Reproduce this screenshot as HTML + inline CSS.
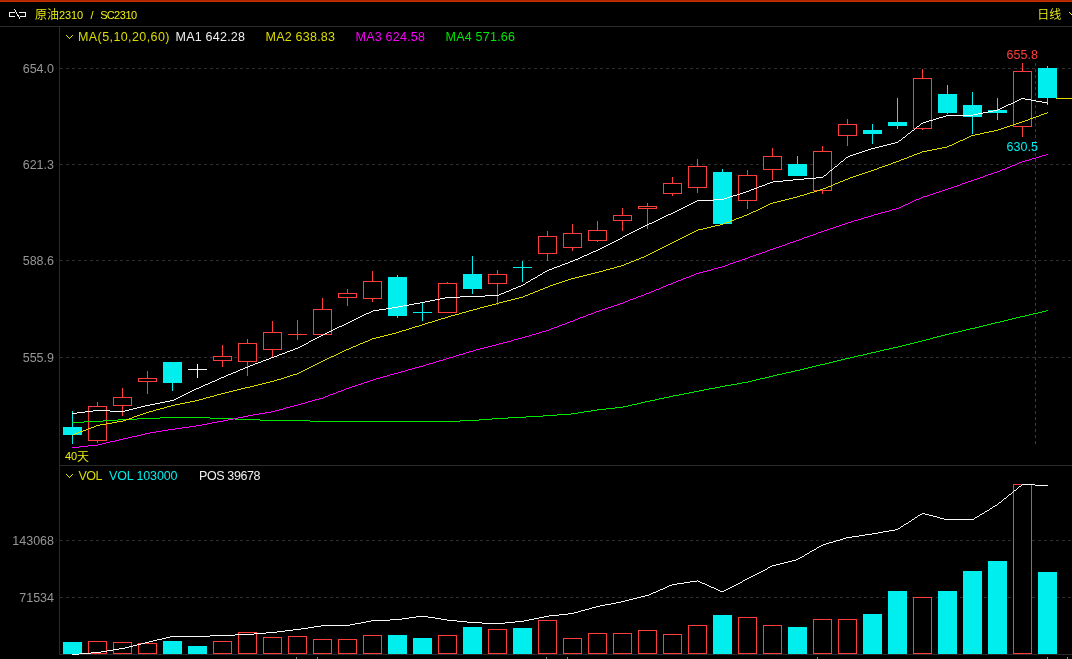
<!DOCTYPE html>
<html lang="zh"><head><meta charset="utf-8"><title>原油2310 / SC2310</title>
<style>html,body{margin:0;padding:0;background:#000;width:1072px;height:659px;overflow:hidden}svg{display:block}text{white-space:pre}</style>
</head><body>
<svg width="1072" height="659" viewBox="0 0 1072 659" style="position:absolute;left:0;top:0">
<g shape-rendering="crispEdges">
<rect x="0" y="0" width="1072" height="1" fill="#b02800"/>
<rect x="0" y="1" width="1072" height="1" fill="#c42c02"/>
<rect x="0" y="26" width="1072" height="1" fill="#2a2a2a"/>
<rect x="59" y="27" width="1" height="628" fill="#2a2a2a"/>
<rect x="59" y="465" width="1013" height="1" fill="#2a2a2a"/>
<rect x="59" y="654" width="1013" height="1" fill="#2a2a2a"/>
<line x1="60" y1="68.5" x2="1072" y2="68.5" stroke="#2e2e2e" stroke-width="1" stroke-dasharray="3 3"/>
<line x1="60" y1="164.5" x2="1072" y2="164.5" stroke="#2e2e2e" stroke-width="1" stroke-dasharray="3 3"/>
<line x1="60" y1="260.5" x2="1072" y2="260.5" stroke="#2e2e2e" stroke-width="1" stroke-dasharray="3 3"/>
<line x1="60" y1="357.5" x2="1072" y2="357.5" stroke="#2e2e2e" stroke-width="1" stroke-dasharray="3 3"/>
<line x1="60" y1="540.5" x2="1072" y2="540.5" stroke="#2e2e2e" stroke-width="1" stroke-dasharray="3 3"/>
<line x1="60" y1="597.5" x2="1072" y2="597.5" stroke="#2e2e2e" stroke-width="1" stroke-dasharray="3 3"/>
<line x1="1035.5" y1="63" x2="1035.5" y2="444" stroke="#3c3c3c" stroke-width="1" stroke-dasharray="3 3"/>
<rect x="63" y="642" width="19" height="12" fill="#00eeee"/>
<rect x="88.5" y="641.5" width="18" height="12" fill="#000" stroke="#ff3d3d" stroke-width="1"/>
<rect x="113.5" y="642.5" width="18" height="11" fill="#000" stroke="#ff3d3d" stroke-width="1"/>
<rect x="138.5" y="643.5" width="18" height="10" fill="#000" stroke="#ff3d3d" stroke-width="1"/>
<rect x="163" y="641" width="19" height="13" fill="#00eeee"/>
<rect x="188" y="646" width="19" height="8" fill="#00eeee"/>
<rect x="213.5" y="641.5" width="18" height="12" fill="#000" stroke="#ff3d3d" stroke-width="1"/>
<rect x="238.5" y="632.5" width="18" height="21" fill="#000" stroke="#ff3d3d" stroke-width="1"/>
<rect x="263.5" y="637.5" width="18" height="16" fill="#000" stroke="#ff3d3d" stroke-width="1"/>
<rect x="288.5" y="636.5" width="18" height="17" fill="#000" stroke="#ff3d3d" stroke-width="1"/>
<rect x="313.5" y="639.5" width="18" height="14" fill="#000" stroke="#ff3d3d" stroke-width="1"/>
<rect x="338.5" y="639.5" width="18" height="14" fill="#000" stroke="#ff3d3d" stroke-width="1"/>
<rect x="363.5" y="635.5" width="18" height="18" fill="#000" stroke="#ff3d3d" stroke-width="1"/>
<rect x="388" y="635" width="19" height="19" fill="#00eeee"/>
<rect x="413" y="638" width="19" height="16" fill="#00eeee"/>
<rect x="438.5" y="635.5" width="18" height="18" fill="#000" stroke="#ff3d3d" stroke-width="1"/>
<rect x="463" y="627" width="19" height="27" fill="#00eeee"/>
<rect x="488.5" y="629.5" width="18" height="24" fill="#000" stroke="#ff3d3d" stroke-width="1"/>
<rect x="513" y="628" width="19" height="26" fill="#00eeee"/>
<rect x="538.5" y="620.5" width="18" height="33" fill="#000" stroke="#ff3d3d" stroke-width="1"/>
<rect x="563.5" y="638.5" width="18" height="15" fill="#000" stroke="#ff3d3d" stroke-width="1"/>
<rect x="588.5" y="633.5" width="18" height="20" fill="#000" stroke="#ff3d3d" stroke-width="1"/>
<rect x="613.5" y="633.5" width="18" height="20" fill="#000" stroke="#ff3d3d" stroke-width="1"/>
<rect x="638.5" y="630.5" width="18" height="23" fill="#000" stroke="#ff3d3d" stroke-width="1"/>
<rect x="663.5" y="634.5" width="18" height="19" fill="#000" stroke="#ff3d3d" stroke-width="1"/>
<rect x="688.5" y="625.5" width="18" height="28" fill="#000" stroke="#ff3d3d" stroke-width="1"/>
<rect x="713" y="615" width="19" height="39" fill="#00eeee"/>
<rect x="738.5" y="617.5" width="18" height="36" fill="#000" stroke="#ff3d3d" stroke-width="1"/>
<rect x="763.5" y="625.5" width="18" height="28" fill="#000" stroke="#ff3d3d" stroke-width="1"/>
<rect x="788" y="627" width="19" height="27" fill="#00eeee"/>
<rect x="813.5" y="619.5" width="18" height="34" fill="#000" stroke="#ff3d3d" stroke-width="1"/>
<rect x="838.5" y="619.5" width="18" height="34" fill="#000" stroke="#ff3d3d" stroke-width="1"/>
<rect x="863" y="614" width="19" height="40" fill="#00eeee"/>
<rect x="888" y="591" width="19" height="63" fill="#00eeee"/>
<rect x="913.5" y="597.5" width="18" height="56" fill="#000" stroke="#ff3d3d" stroke-width="1"/>
<rect x="938" y="591" width="19" height="63" fill="#00eeee"/>
<rect x="963" y="571" width="19" height="83" fill="#00eeee"/>
<rect x="988" y="561" width="19" height="93" fill="#00eeee"/>
<rect x="1013.5" y="484.5" width="18" height="169" fill="#000" stroke="#ff3d3d" stroke-width="1"/>
<rect x="1038" y="572" width="19" height="82" fill="#00eeee"/>
<rect x="72" y="411" width="1" height="33" fill="#00eeee"/>
<rect x="63" y="427" width="19" height="8" fill="#00eeee"/>
<rect x="97" y="402" width="1" height="4" fill="#ff3d3d"/>
<rect x="97" y="441" width="1" height="2" fill="#ff3d3d"/>
<rect x="88.5" y="406.5" width="18" height="34" fill="#000" stroke="#ff3d3d" stroke-width="1"/>
<rect x="122" y="388" width="1" height="9" fill="#ff3d3d"/>
<rect x="122" y="406" width="1" height="10" fill="#ff3d3d"/>
<rect x="113.5" y="397.5" width="18" height="8" fill="#000" stroke="#ff3d3d" stroke-width="1"/>
<rect x="147" y="371" width="1" height="7" fill="#ff3d3d"/>
<rect x="147" y="382" width="1" height="12" fill="#ff3d3d"/>
<rect x="138.5" y="378.5" width="18" height="3" fill="#000" stroke="#ff3d3d" stroke-width="1"/>
<rect x="172" y="362" width="1" height="29" fill="#00eeee"/>
<rect x="163" y="362" width="19" height="21" fill="#00eeee"/>
<rect x="197" y="364" width="1" height="14" fill="#fafafa"/>
<rect x="188" y="369" width="19" height="1" fill="#fafafa"/>
<rect x="222" y="345" width="1" height="11" fill="#ff3d3d"/>
<rect x="222" y="361" width="1" height="6" fill="#ff3d3d"/>
<rect x="213.5" y="356.5" width="18" height="4" fill="#000" stroke="#ff3d3d" stroke-width="1"/>
<rect x="247" y="339" width="1" height="4" fill="#ff3d3d"/>
<rect x="247" y="362" width="1" height="14" fill="#ff3d3d"/>
<rect x="238.5" y="343.5" width="18" height="18" fill="#000" stroke="#ff3d3d" stroke-width="1"/>
<rect x="272" y="321" width="1" height="11" fill="#ff3d3d"/>
<rect x="272" y="350" width="1" height="8" fill="#ff3d3d"/>
<rect x="263.5" y="332.5" width="18" height="17" fill="#000" stroke="#ff3d3d" stroke-width="1"/>
<rect x="297" y="320" width="1" height="20" fill="#ff3d3d"/>
<rect x="288" y="334" width="19" height="1" fill="#ff3d3d"/>
<rect x="322" y="298" width="1" height="11" fill="#ff3d3d"/>
<rect x="313.5" y="309.5" width="18" height="25" fill="#000" stroke="#ff3d3d" stroke-width="1"/>
<rect x="347" y="289" width="1" height="4" fill="#ff3d3d"/>
<rect x="347" y="298" width="1" height="8" fill="#ff3d3d"/>
<rect x="338.5" y="293.5" width="18" height="4" fill="#000" stroke="#ff3d3d" stroke-width="1"/>
<rect x="372" y="271" width="1" height="10" fill="#ff3d3d"/>
<rect x="372" y="299" width="1" height="3" fill="#ff3d3d"/>
<rect x="363.5" y="281.5" width="18" height="17" fill="#000" stroke="#ff3d3d" stroke-width="1"/>
<rect x="397" y="275" width="1" height="43" fill="#00eeee"/>
<rect x="388" y="277" width="19" height="39" fill="#00eeee"/>
<rect x="422" y="302" width="1" height="19" fill="#00eeee"/>
<rect x="413" y="312" width="19" height="1" fill="#00eeee"/>
<rect x="447" y="282" width="1" height="1" fill="#ff3d3d"/>
<rect x="438.5" y="283.5" width="18" height="29" fill="#000" stroke="#ff3d3d" stroke-width="1"/>
<rect x="472" y="256" width="1" height="38" fill="#00eeee"/>
<rect x="463" y="274" width="19" height="15" fill="#00eeee"/>
<rect x="497" y="270" width="1" height="4" fill="#ff3d3d"/>
<rect x="497" y="284" width="1" height="21" fill="#ff3d3d"/>
<rect x="488.5" y="274.5" width="18" height="9" fill="#000" stroke="#ff3d3d" stroke-width="1"/>
<rect x="522" y="261" width="1" height="21" fill="#00eeee"/>
<rect x="513" y="267" width="19" height="1" fill="#00eeee"/>
<rect x="547" y="231" width="1" height="5" fill="#ff3d3d"/>
<rect x="547" y="254" width="1" height="7" fill="#ff3d3d"/>
<rect x="538.5" y="236.5" width="18" height="17" fill="#000" stroke="#ff3d3d" stroke-width="1"/>
<rect x="572" y="224" width="1" height="9" fill="#ff3d3d"/>
<rect x="572" y="248" width="1" height="3" fill="#ff3d3d"/>
<rect x="563.5" y="233.5" width="18" height="14" fill="#000" stroke="#ff3d3d" stroke-width="1"/>
<rect x="597" y="221" width="1" height="9" fill="#ff3d3d"/>
<rect x="597" y="241" width="1" height="1" fill="#ff3d3d"/>
<rect x="588.5" y="230.5" width="18" height="10" fill="#000" stroke="#ff3d3d" stroke-width="1"/>
<rect x="622" y="208" width="1" height="7" fill="#ff3d3d"/>
<rect x="622" y="221" width="1" height="10" fill="#ff3d3d"/>
<rect x="613.5" y="215.5" width="18" height="5" fill="#000" stroke="#ff3d3d" stroke-width="1"/>
<rect x="647" y="203" width="1" height="3" fill="#ff3d3d"/>
<rect x="647" y="209" width="1" height="20" fill="#ff3d3d"/>
<rect x="638.5" y="206.5" width="18" height="2" fill="#000" stroke="#ff3d3d" stroke-width="1"/>
<rect x="672" y="177" width="1" height="6" fill="#ff3d3d"/>
<rect x="672" y="194" width="1" height="2" fill="#ff3d3d"/>
<rect x="663.5" y="183.5" width="18" height="10" fill="#000" stroke="#ff3d3d" stroke-width="1"/>
<rect x="697" y="159" width="1" height="7" fill="#ff3d3d"/>
<rect x="697" y="188" width="1" height="5" fill="#ff3d3d"/>
<rect x="688.5" y="166.5" width="18" height="21" fill="#000" stroke="#ff3d3d" stroke-width="1"/>
<rect x="722" y="169" width="1" height="55" fill="#00eeee"/>
<rect x="713" y="172" width="19" height="52" fill="#00eeee"/>
<rect x="747" y="170" width="1" height="5" fill="#ff3d3d"/>
<rect x="747" y="201" width="1" height="8" fill="#ff3d3d"/>
<rect x="738.5" y="175.5" width="18" height="25" fill="#000" stroke="#ff3d3d" stroke-width="1"/>
<rect x="772" y="148" width="1" height="8" fill="#ff3d3d"/>
<rect x="772" y="170" width="1" height="10" fill="#ff3d3d"/>
<rect x="763.5" y="156.5" width="18" height="13" fill="#000" stroke="#ff3d3d" stroke-width="1"/>
<rect x="797" y="156" width="1" height="20" fill="#00eeee"/>
<rect x="788" y="164" width="19" height="12" fill="#00eeee"/>
<rect x="822" y="146" width="1" height="5" fill="#ff3d3d"/>
<rect x="822" y="191" width="1" height="3" fill="#ff3d3d"/>
<rect x="813.5" y="151.5" width="18" height="39" fill="#000" stroke="#ff3d3d" stroke-width="1"/>
<rect x="847" y="119" width="1" height="5" fill="#ff3d3d"/>
<rect x="847" y="136" width="1" height="10" fill="#ff3d3d"/>
<rect x="838.5" y="124.5" width="18" height="11" fill="#000" stroke="#ff3d3d" stroke-width="1"/>
<rect x="872" y="124" width="1" height="20" fill="#00eeee"/>
<rect x="863" y="130" width="19" height="4" fill="#00eeee"/>
<rect x="897" y="98" width="1" height="31" fill="#00eeee"/>
<rect x="888" y="122" width="19" height="4" fill="#00eeee"/>
<rect x="922" y="69" width="1" height="9" fill="#ff3d3d"/>
<rect x="922" y="129" width="1" height="1" fill="#ff3d3d"/>
<rect x="913.5" y="78.5" width="18" height="50" fill="#000" stroke="#ff3d3d" stroke-width="1"/>
<rect x="947" y="85" width="1" height="29" fill="#00eeee"/>
<rect x="938" y="94" width="19" height="19" fill="#00eeee"/>
<rect x="972" y="92" width="1" height="42" fill="#00eeee"/>
<rect x="963" y="105" width="19" height="12" fill="#00eeee"/>
<rect x="997" y="98" width="1" height="22" fill="#00eeee"/>
<rect x="988" y="110" width="19" height="3" fill="#00eeee"/>
<rect x="1022" y="63" width="1" height="8" fill="#ff3d3d"/>
<rect x="1022" y="127" width="1" height="10" fill="#ff3d3d"/>
<rect x="1013.5" y="71.5" width="18" height="55" fill="#000" stroke="#ff3d3d" stroke-width="1"/>
<rect x="1047" y="66" width="1" height="39" fill="#00eeee"/>
<rect x="1038" y="68" width="19" height="30" fill="#00eeee"/>
<rect x="1056" y="98" width="16" height="1" fill="#dcdc00"/>
<path d="M72 422.5h12m0 -1h19m0 -1h15m0 -1h19m0 -1h23m0 -1h50m0 1h25m0 1h25m0 1h50m0 1h150m0 -1h19m0 -1h13m0 -1h16m0 -1h18m0 -1h17m0 -1h14m0 -1h14m0 -1h7m0 -1h6m0 -1h7m0 -1h6m0 -1h9m0 -1h9m0 -1h8m0 -1h5m0 -1h4m0 -1h5m0 -1h4m0 -1h4m0 -1h5m0 -1h5m0 -1h4m0 -1h5m0 -1h5m0 -1h4m0 -1h6m0 -1h5m0 -1h5m0 -1h5m0 -1h5m0 -1h5m0 -1h5m0 -1h6m0 -1h5m0 -1h5m0 -1h6m0 -1h6m0 -1h5m0 -1h6m0 -1h4m0 -1h4m0 -1h4m0 -1h5m0 -1h4m0 -1h4m0 -1h4m0 -1h5m0 -1h4m0 -1h5m0 -1h4m0 -1h5m0 -1h4m0 -1h4m0 -1h4m0 -1h4m0 -1h4m0 -1h5m0 -1h4m0 -1h4m0 -1h4m0 -1h4m0 -1h4m0 -1h5m0 -1h4m0 -1h4m0 -1h5m0 -1h4m0 -1h4m0 -1h5m0 -1h4m0 -1h4m0 -1h5m0 -1h4m0 -1h5m0 -1h4m0 -1h4m0 -1h4m0 -1h4m0 -1h4m0 -1h4m0 -1h4m0 -1h4m0 -1h3m0 -1h4m0 -1h4m0 -1h4m0 -1h4m0 -1h4m0 -1h5m0 -1h4m0 -1h4m0 -1h4m0 -1h5m0 -1h4m0 -1h4m0 -1h4m0 -1h4m0 -1h4m0 -1h5m0 -1h4m0 -1h4m0 -1h4m0 -1h4m0 -1h4m0 -1h5m0 -1h4m0 -1h4m0 -1h5m0 -1h4m0 -1h4m0 -1h2" fill="none" stroke="#00e800" stroke-width="1"/>
<path d="M72 447.5h7m0 -1h9m0 -1h10m0 -1h4m0 -1h4m0 -1h4m0 -1h5m0 -1h4m0 -1h4m0 -1h5m0 -1h4m0 -1h5m0 -1h4m0 -1h4m0 -1h5m0 -1h6m0 -1h6m0 -1h6m0 -1h7m0 -1h7m0 -1h7m0 -1h7m0 -1h6m0 -1h5m0 -1h5m0 -1h5m0 -1h6m0 -1h5m0 -1h5m0 -1h5m0 -1h5m0 -1h5m0 -1h5m0 -1h6m0 -1h6m0 -1h6m0 -1h4m0 -1h4m0 -1h4m0 -1h3m0 -1h4m0 -1h4m0 -1h4m0 -1h3m0 -1h4m0 -1h3m0 -1h4m0 -1h3m0 -1h4m0 -1h4m0 -1h2m0 -1h3m0 -1h2m0 -1h3m0 -1h3m0 -1h2m0 -1h3m0 -1h3m0 -1h2m0 -1h3m0 -1h3m0 -1h3m0 -1h3m0 -1h3m0 -1h3m0 -1h3m0 -1h3m0 -1h3m0 -1h3m0 -1h4m0 -1h3m0 -1h4m0 -1h3m0 -1h4m0 -1h4m0 -1h3m0 -1h4m0 -1h3m0 -1h4m0 -1h3m0 -1h4m0 -1h4m0 -1h3m0 -1h3m0 -1h4m0 -1h3m0 -1h3m0 -1h4m0 -1h3m0 -1h3m0 -1h4m0 -1h3m0 -1h3m0 -1h4m0 -1h3m0 -1h3m0 -1h4m0 -1h3m0 -1h4m0 -1h4m0 -1h4m0 -1h4m0 -1h4m0 -1h3m0 -1h4m0 -1h4m0 -1h4m0 -1h3m0 -1h4m0 -1h4m0 -1h3m0 -1h4m0 -1h3m0 -1h4m0 -1h3m0 -1h3m0 -1h4m0 -1h3m0 -1h2m0 -1h3m0 -1h3m0 -1h2m0 -1h3m0 -1h3m0 -1h2m0 -1h3m0 -1h3m0 -1h2m0 -1h3m0 -1h2m0 -1h3m0 -1h3m0 -1h2m0 -1h3m0 -1h3m0 -1h2m0 -1h3m0 -1h3m0 -1h3m0 -1h3m0 -1h3m0 -1h3m0 -1h3m0 -1h3m0 -1h3m0 -1h2m0 -1h3m0 -1h2m0 -1h3m0 -1h3m0 -1h2m0 -1h3m0 -1h3m0 -1h2m0 -1h3m0 -1h2m0 -1h3m0 -1h2m0 -1h3m0 -1h2m0 -1h2m0 -1h3m0 -1h2m0 -1h3m0 -1h2m0 -1h3m0 -1h2m0 -1h3m0 -1h2m0 -1h3m0 -1h3m0 -1h2m0 -1h3m0 -1h2m0 -1h3m0 -1h4m0 -1h4m0 -1h4m0 -1h3m0 -1h4m0 -1h4m0 -1h3m0 -1h3m0 -1h2m0 -1h3m0 -1h3m0 -1h3m0 -1h3m0 -1h3m0 -1h3m0 -1h2m0 -1h3m0 -1h3m0 -1h3m0 -1h3m0 -1h3m0 -1h2m0 -1h3m0 -1h3m0 -1h3m0 -1h3m0 -1h3m0 -1h3m0 -1h2m0 -1h3m0 -1h3m0 -1h3m0 -1h3m0 -1h3m0 -1h2m0 -1h3m0 -1h3m0 -1h3m0 -1h3m0 -1h2m0 -1h3m0 -1h3m0 -1h3m0 -1h3m0 -1h3m0 -1h3m0 -1h3m0 -1h3m0 -1h3m0 -1h3m0 -1h3m0 -1h3m0 -1h4m0 -1h3m0 -1h3m0 -1h4m0 -1h3m0 -1h3m0 -1h4m0 -1h3m0 -1h4m0 -1h4m0 -1h3m0 -1h4m0 -1h3m0 -1h2m0 -1h2m0 -1h2m0 -1h3m0 -1h2m0 -1h2m0 -1h2m0 -1h2m0 -1h3m0 -1h2m0 -1h2m0 -1h4m0 -1h3m0 -1h3m0 -1h3m0 -1h3m0 -1h3m0 -1h3m0 -1h3m0 -1h3m0 -1h3m0 -1h3m0 -1h3m0 -1h2m0 -1h3m0 -1h3m0 -1h3m0 -1h3m0 -1h3m0 -1h3m0 -1h3m0 -1h2m0 -1h3m0 -1h3m0 -1h3m0 -1h3m0 -1h3m0 -1h2m0 -1h3m0 -1h2m0 -1h3m0 -1h2m0 -1h3m0 -1h2m0 -1h2m0 -1h3m0 -1h3m0 -1h4m0 -1h3m0 -1h4m0 -1h3m0 -1h3m0 -1h4m0 -1h2" fill="none" stroke="#fa00fa" stroke-width="1"/>
<path d="M72 435.5h1m0 -1h2m0 -1h3m0 -1h2m0 -1h3m0 -1h3m0 -1h2m0 -1h3m0 -1h3m0 -1h2m0 -1h4m0 -1h6m0 -1h6m0 -1h5m0 -1h6m0 -1h3m0 -1h3m0 -1h3m0 -1h2m0 -1h3m0 -1h3m0 -1h3m0 -1h3m0 -1h3m0 -1h4m0 -1h3m0 -1h4m0 -1h4m0 -1h3m0 -1h4m0 -1h4m0 -1h5m0 -1h5m0 -1h5m0 -1h5m0 -1h4m0 -1h4m0 -1h3m0 -1h4m0 -1h4m0 -1h3m0 -1h4m0 -1h4m0 -1h4m0 -1h4m0 -1h4m0 -1h4m0 -1h4m0 -1h5m0 -1h4m0 -1h4m0 -1h4m0 -1h4m0 -1h4m0 -1h4m0 -1h3m0 -1h4m0 -1h3m0 -1h3m0 -1h3m0 -1h3m0 -1h4m0 -1h2m0 -1h2m0 -1h2m0 -1h2m0 -1h2m0 -1h2m0 -1h2m0 -1h2m0 -1h2m0 -1h2m0 -1h2m0 -1h2m0 -1h2m0 -1h2m0 -1h2m0 -1h2m0 -1h2m0 -1h3m0 -1h2m0 -1h2m0 -1h2m0 -1h2m0 -1h2m0 -1h2m0 -1h3m0 -1h2m0 -1h2m0 -1h3m0 -1h2m0 -1h2m0 -1h3m0 -1h2m0 -1h3m0 -1h2m0 -1h2m0 -1h4m0 -1h4m0 -1h4m0 -1h4m0 -1h4m0 -1h4m0 -1h3m0 -1h3m0 -1h4m0 -1h3m0 -1h3m0 -1h3m0 -1h4m0 -1h3m0 -1h3m0 -1h3m0 -1h4m0 -1h3m0 -1h3m0 -1h3m0 -1h4m0 -1h3m0 -1h3m0 -1h4m0 -1h4m0 -1h3m0 -1h4m0 -1h3m0 -1h4m0 -1h4m0 -1h3m0 -1h4m0 -1h4m0 -1h4m0 -1h4m0 -1h3m0 -1h4m0 -1h4m0 -1h4m0 -1h4m0 -1h4m0 -1h4m0 -1h2m0 -1h3m0 -1h2m0 -1h3m0 -1h2m0 -1h3m0 -1h2m0 -1h3m0 -1h2m0 -1h3m0 -1h2m0 -1h3m0 -1h3m0 -1h3m0 -1h3m0 -1h3m0 -1h3m0 -1h3m0 -1h4m0 -1h4m0 -1h4m0 -1h4m0 -1h4m0 -1h4m0 -1h4m0 -1h4m0 -1h3m0 -1h4m0 -1h4m0 -1h3m0 -1h4m0 -1h3m0 -1h2m0 -1h3m0 -1h2m0 -1h3m0 -1h2m0 -1h3m0 -1h2m0 -1h3m0 -1h2m0 -1h2m0 -1h2m0 -1h2m0 -1h2m0 -1h2m0 -1h2m0 -1h2m0 -1h2m0 -1h2m0 -1h2m0 -1h2m0 -1h2m0 -1h2m0 -1h2m0 -1h2m0 -1h2m0 -1h2m0 -1h2m0 -1h2m0 -1h2m0 -1h2m0 -1h2m0 -1h2m0 -1h2m0 -1h2m0 -1h2m0 -1h5m0 -1h4m0 -1h4m0 -1h4m0 -1h5m0 -1h3m0 -1h3m0 -1h3m0 -1h2m0 -1h3m0 -1h2m0 -1h3m0 -1h3m0 -1h2m0 -1h3m0 -1h2m0 -1h2m0 -1h2m0 -1h3m0 -1h2m0 -1h2m0 -1h2m0 -1h2m0 -1h2m0 -1h2m0 -1h2m0 -1h3m0 -1h4m0 -1h4m0 -1h4m0 -1h4m0 -1h4m0 -1h4m0 -1h3m0 -1h4m0 -1h3m0 -1h3m0 -1h4m0 -1h3m0 -1h3m0 -1h3m0 -1h3m0 -1h2m0 -1h3m0 -1h2m0 -1h2m0 -1h3m0 -1h2m0 -1h3m0 -1h2m0 -1h3m0 -1h2m0 -1h3m0 -1h3m0 -1h3m0 -1h3m0 -1h3m0 -1h3m0 -1h3m0 -1h3m0 -1h3m0 -1h2m0 -1h3m0 -1h3m0 -1h3m0 -1h3m0 -1h2m0 -1h3m0 -1h3m0 -1h2m0 -1h3m0 -1h3m0 -1h2m0 -1h3m0 -1h2m0 -1h3m0 -1h3m0 -1h2m0 -1h5m0 -1h5m0 -1h5m0 -1h5m0 -1h5m0 -1h2m0 -1h3m0 -1h2m0 -1h2m0 -1h2m0 -1h2m0 -1h3m0 -1h2m0 -1h2m0 -1h2m0 -1h2m0 -1h4m0 -1h5m0 -1h4m0 -1h5m0 -1h5m0 -1h4m0 -1h3m0 -1h3m0 -1h3m0 -1h3m0 -1h3m0 -1h3m0 -1h3m0 -1h3m0 -1h3m0 -1h3m0 -1h2m0 -1h3m0 -1h3m0 -1h3m0 -1h2m0 -1h3m0 -1h3m0 -1h1" fill="none" stroke="#dcdc00" stroke-width="1"/>
<path d="M72 413.5h5m0 -1h8m0 -1h8m0 -1h17m0 1h15m0 -1h4m0 -1h4m0 -1h4m0 -1h4m0 -1h4m0 -1h5m0 -1h5m0 -1h5m0 -1h5m0 -1h5m0 -1h4m0 -1h2m0 -1h2m0 -1h2m0 -1h2m0 -1h2m0 -1h2m0 -1h2m0 -1h2m0 -1h2m0 -1h2m0 -1h2m0 -1h3m0 -1h2m0 -1h2m0 -1h2m0 -1h3m0 -1h2m0 -1h2m0 -1h3m0 -1h2m0 -1h2m0 -1h2m0 -1h3m0 -1h2m0 -1h2m0 -1h3m0 -1h2m0 -1h3m0 -1h2m0 -1h2m0 -1h3m0 -1h2m0 -1h3m0 -1h2m0 -1h3m0 -1h2m0 -1h3m0 -1h3m0 -1h2m0 -1h3m0 -1h3m0 -1h2m0 -1h3m0 -1h3m0 -1h2m0 -1h3m0 -1h3m0 -1h2m0 -1h3m0 -1h3m0 -1h2m0 -1h3m0 -1h2m0 -1h2m0 -1h2m0 -1h2m0 -1h2m0 -1h1m0 -1h2m0 -1h2m0 -1h2m0 -1h2m0 -1h2m0 -1h2m0 -1h2m0 -1h2m0 -1h2m0 -1h2m0 -1h2m0 -1h2m0 -1h2m0 -1h2m0 -1h2m0 -1h3m0 -1h2m0 -1h2m0 -1h2m0 -1h2m0 -1h2m0 -1h2m0 -1h2m0 -1h2m0 -1h2m0 -1h2m0 -1h2m0 -1h2m0 -1h3m0 -1h2m0 -1h2m0 -1h6m0 -1h7m0 -1h6m0 -1h6m0 -1h5m0 -1h6m0 -1h5m0 -1h6m0 -1h5m0 -1h5m0 -1h5m0 -1h5m0 -1h5m0 -1h15m0 -1h25m0 -1h14m0 -1h2m0 -1h3m0 -1h2m0 -1h3m0 -1h2m0 -1h2m0 -1h3m0 -1h2m0 -1h3m0 -1h2m0 -1h2m0 -1h1m0 -1h2m0 -1h2m0 -1h1m0 -1h2m0 -1h2m0 -1h2m0 -1h1m0 -1h2m0 -1h2m0 -1h1m0 -1h2m0 -1h2m0 -1h2m0 -1h3m0 -1h2m0 -1h3m0 -1h3m0 -1h2m0 -1h3m0 -1h3m0 -1h2m0 -1h3m0 -1h2m0 -1h3m0 -1h2m0 -1h2m0 -1h2m0 -1h3m0 -1h2m0 -1h2m0 -1h2m0 -1h3m0 -1h2m0 -1h2m0 -1h2m0 -1h2m0 -1h2m0 -1h2m0 -1h2m0 -1h2m0 -1h2m0 -1h2m0 -1h2m0 -1h2m0 -1h2m0 -1h1m0 -1h2m0 -1h2m0 -1h2m0 -1h2m0 -1h2m0 -1h2m0 -1h2m0 -1h2m0 -1h2m0 -1h2m0 -1h2m0 -1h2m0 -1h2m0 -1h3m0 -1h2m0 -1h2m0 -1h2m0 -1h2m0 -1h2m0 -1h2m0 -1h2m0 -1h2m0 -1h3m0 -1h2m0 -1h2m0 -1h2m0 -1h2m0 -1h2m0 -1h2m0 -1h2m0 -1h2m0 -1h2m0 -1h2m0 -1h2m0 -1h2m0 -1h2m0 -1h17m0 -1h10m0 -1h3m0 -1h3m0 -1h3m0 -1h4m0 -1h3m0 -1h3m0 -1h3m0 -1h3m0 -1h2m0 -1h3m0 -1h3m0 -1h2m0 -1h3m0 -1h3m0 -1h2m0 -1h3m0 -1h3m0 -1h10m0 -1h10m0 -1h11m0 -1h12m0 -1h7m0 -1h1m0 -1h2m0 -1h1m0 -1h1m0 -1h1m0 -1h1m0 -1h2m0 -1h1m0 -1h1m0 -1h1m0 -1h2m0 -1h1m0 -1h1m0 -1h1m0 -1h1m0 -1h2m0 -1h1m0 -1h1m0 -1h1m0 -1h2m0 -1h2m0 -1h3m0 -1h3m0 -1h3m0 -1h3m0 -1h3m0 -1h3m0 -1h3m0 -1h4m0 -1h4m0 -1h4m0 -1h4m0 -1h4m0 -1h4m0 -1h3m0 -1h1m0 -1h2m0 -1h1m0 -1h1m0 -1h2m0 -1h1m0 -1h1m0 -1h1m0 -1h2m0 -1h1m0 -1h1m0 -1h2m0 -1h1m0 -1h1m0 -1h1m0 -1h2m0 -1h1m0 -1h1m0 -1h2m0 -1h3m0 -1h3m0 -1h4m0 -1h3m0 -1h3m0 -1h4m0 -1h3m0 -1h27m0 -1h5m0 -1h5m0 -1h5m0 -1h5m0 -1h5m0 -1h2m0 -1h2m0 -1h2m0 -1h2m0 -1h2m0 -1h3m0 -1h2m0 -1h2m0 -1h2m0 -1h2m0 -1h2m0 -1h4m0 1h6m0 1h5m0 1h6m0 1h5m0 1h1" fill="none" stroke="#fafafa" stroke-width="1"/>
<path d="M72 654.5h7m0 -1h12m0 -1h10m0 -1h6m0 -1h6m0 -1h6m0 -1h6m0 -1h4m0 -1h4m0 -1h4m0 -1h4m0 -1h4m0 -1h4m0 -1h4m0 -1h4m0 -1h5m0 -1h4m0 -1h4m0 -1h40m0 -1h25m0 -1h19m0 -1h12m0 -1h11m0 -1h8m0 -1h8m0 -1h8m0 -1h7m0 -1h6m0 -1h7m0 -1h29m0 -1h5m0 -1h6m0 -1h5m0 -1h5m0 -1h19m0 -1h12m0 -1h7m0 -1h7m0 -1h12m0 1h7m0 1h6m0 1h6m0 1h10m0 1h10m0 1h15m0 1h23m0 -1h10m0 -1h9m0 -1h5m0 -1h5m0 -1h5m0 -1h5m0 -1h5m0 -1h10m0 -1h9m0 -1h6m0 -1h4m0 -1h3m0 -1h4m0 -1h4m0 -1h3m0 -1h4m0 -1h4m0 -1h5m0 -1h6m0 -1h5m0 -1h5m0 -1h4m0 -1h4m0 -1h4m0 -1h4m0 -1h4m0 -1h4m0 -1h4m0 -1h2m0 -1h2m0 -1h3m0 -1h2m0 -1h2m0 -1h3m0 -1h2m0 -1h2m0 -1h2m0 -1h3m0 -1h5m0 -1h7m0 -1h6m0 -1h7m0 -1h1m0 1h2m0 1h2m0 1h3m0 1h2m0 1h2m0 1h2m0 1h3m0 1h2m0 1h2m0 1h2m0 1h4m0 -1h2m0 -1h2m0 -1h2m0 -1h2m0 -1h2m0 -1h2m0 -1h2m0 -1h2m0 -1h2m0 -1h1m0 -1h2m0 -1h2m0 -1h2m0 -1h2m0 -1h2m0 -1h2m0 -1h2m0 -1h2m0 -1h2m0 -1h2m0 -1h2m0 -1h2m0 -1h1m0 -1h2m0 -1h2m0 -1h4m0 -1h4m0 -1h4m0 -1h4m0 -1h4m0 -1h4m0 -1h2m0 -1h2m0 -1h2m0 -1h2m0 -1h1m0 -1h2m0 -1h2m0 -1h1m0 -1h2m0 -1h2m0 -1h2m0 -1h1m0 -1h2m0 -1h2m0 -1h2m0 -1h3m0 -1h3m0 -1h4m0 -1h3m0 -1h4m0 -1h3m0 -1h3m0 -1h6m0 -1h7m0 -1h6m0 -1h7m0 -1h6m0 -1h5m0 -1h6m0 -1h6m0 -1h3m0 -1h2m0 -1h1m0 -1h2m0 -1h1m0 -1h2m0 -1h2m0 -1h1m0 -1h2m0 -1h1m0 -1h2m0 -1h1m0 -1h2m0 -1h1m0 -1h2m0 -1h2m0 -1h3m0 1h4m0 1h4m0 1h4m0 1h3m0 1h4m0 1h30m0 -1h1m0 -1h2m0 -1h2m0 -1h1m0 -1h2m0 -1h2m0 -1h1m0 -1h2m0 -1h2m0 -1h1m0 -1h2m0 -1h1m0 -1h2m0 -1h2m0 -1h1m0 -1h1m0 -1h2m0 -1h1m0 -1h1m0 -1h1m0 -1h2m0 -1h1m0 -1h1m0 -1h1m0 -1h2m0 -1h1m0 -1h1m0 -1h1m0 -1h2m0 -1h1m0 -1h1m0 -1h1m0 -1h2m0 -1h1m0 -1h13m0 1h13" fill="none" stroke="#fafafa" stroke-width="1"/>
<rect x="9" y="12" width="6" height="1" fill="#f0f0f0"/>
<rect x="9" y="12" width="1" height="5" fill="#f0f0f0"/>
<rect x="9" y="16" width="6" height="1" fill="#f0f0f0"/>
<rect x="19" y="12" width="7" height="1" fill="#f0f0f0"/>
<rect x="25" y="12" width="1" height="5" fill="#f0f0f0"/>
<rect x="20" y="16" width="6" height="1" fill="#f0f0f0"/>
<rect x="14" y="9" width="1" height="1" fill="#f0f0f0"/>
<rect x="15" y="10" width="1" height="2" fill="#f0f0f0"/>
<rect x="16" y="12" width="1" height="2" fill="#f0f0f0"/>
<rect x="17" y="14" width="1" height="2" fill="#f0f0f0"/>
<rect x="18" y="15" width="1" height="2" fill="#f0f0f0"/>
<rect x="19" y="17" width="1" height="2" fill="#f0f0f0"/>
</g>
<g shape-rendering="crispEdges"><rect x="66" y="35" width="1" height="1" fill="#dcdc00"/><rect x="67" y="36" width="1" height="1" fill="#dcdc00"/><rect x="68" y="37" width="1" height="1" fill="#dcdc00"/><rect x="69" y="38" width="1" height="1" fill="#dcdc00"/><rect x="70" y="37" width="1" height="1" fill="#dcdc00"/><rect x="71" y="36" width="1" height="1" fill="#dcdc00"/><rect x="72" y="35" width="1" height="1" fill="#dcdc00"/></g>
<g shape-rendering="crispEdges"><rect x="66" y="474" width="1" height="1" fill="#dcdc00"/><rect x="67" y="475" width="1" height="1" fill="#dcdc00"/><rect x="68" y="476" width="1" height="1" fill="#dcdc00"/><rect x="69" y="477" width="1" height="1" fill="#dcdc00"/><rect x="70" y="476" width="1" height="1" fill="#dcdc00"/><rect x="71" y="475" width="1" height="1" fill="#dcdc00"/><rect x="72" y="474" width="1" height="1" fill="#dcdc00"/></g>
<g shape-rendering="crispEdges"><rect x="1069" y="12" width="1" height="1" fill="#f0f014"/><rect x="1070" y="13" width="1" height="1" fill="#f0f014"/><rect x="1071" y="14" width="1" height="1" fill="#f0f014"/></g>
<text x="78" y="41" fill="#dcdc00" font-size="12.5" text-anchor="start" font-family="Liberation Sans, sans-serif" textLength="91.5" lengthAdjust="spacing">MA(5,10,20,60)</text>
<text x="175.5" y="41" fill="#f0f0f0" font-size="12.5" text-anchor="start" font-family="Liberation Sans, sans-serif" textLength="69.5" lengthAdjust="spacing">MA1 642.28</text>
<text x="265.5" y="41" fill="#dcdc00" font-size="12.5" text-anchor="start" font-family="Liberation Sans, sans-serif" textLength="69.5" lengthAdjust="spacing">MA2 638.83</text>
<text x="355.5" y="41" fill="#fa00fa" font-size="12.5" text-anchor="start" font-family="Liberation Sans, sans-serif" textLength="69.5" lengthAdjust="spacing">MA3 624.58</text>
<text x="445.5" y="41" fill="#00e800" font-size="12.5" text-anchor="start" font-family="Liberation Sans, sans-serif" textLength="69.5" lengthAdjust="spacing">MA4 571.66</text>
<text x="78.5" y="480" fill="#dcdc00" font-size="12.5" text-anchor="start" font-family="Liberation Sans, sans-serif" textLength="24" lengthAdjust="spacing">VOL</text>
<text x="109" y="480" fill="#00eeee" font-size="12.5" text-anchor="start" font-family="Liberation Sans, sans-serif" textLength="68.5" lengthAdjust="spacing">VOL 103000</text>
<text x="199" y="480" fill="#f0f0f0" font-size="12.5" text-anchor="start" font-family="Liberation Sans, sans-serif" textLength="61.5" lengthAdjust="spacing">POS 39678</text>
<text x="54" y="73" fill="#969696" font-size="12.5" text-anchor="end" font-family="Liberation Sans, sans-serif">654.0</text>
<text x="54" y="169" fill="#969696" font-size="12.5" text-anchor="end" font-family="Liberation Sans, sans-serif">621.3</text>
<text x="54" y="265" fill="#969696" font-size="12.5" text-anchor="end" font-family="Liberation Sans, sans-serif">588.6</text>
<text x="54" y="362" fill="#969696" font-size="12.5" text-anchor="end" font-family="Liberation Sans, sans-serif">555.9</text>
<text x="54" y="545" fill="#969696" font-size="12.5" text-anchor="end" font-family="Liberation Sans, sans-serif">143068</text>
<text x="54" y="602" fill="#969696" font-size="12.5" text-anchor="end" font-family="Liberation Sans, sans-serif">71534</text>
<text x="1006.5" y="59" fill="#ff3d3d" font-size="12.5" text-anchor="start" font-family="Liberation Sans, sans-serif" textLength="31.5" lengthAdjust="spacing">655.8</text>
<text x="1006.5" y="151" fill="#00eeee" font-size="12.5" text-anchor="start" font-family="Liberation Sans, sans-serif" textLength="31.5" lengthAdjust="spacing">630.5</text>
<text fill="#f0f014" font-family="Liberation Sans, Noto Sans CJK SC, sans-serif"><tspan x="35 47" y="19" font-size="12" font-weight="350">原油</tspan><tspan x="59 65 71 77 83 90.5 95 100.3 106.8 114 119.7 125.4 131" y="18.5" font-size="11" font-weight="400">2310 / SC2310</tspan></text>
<text x="1037.3 1049.3" y="19" fill="#f0f014" font-size="12" font-weight="350" font-family="Liberation Sans, Noto Sans CJK SC, sans-serif">日线</text>
<text fill="#f0f014" font-family="Liberation Sans, Noto Sans CJK SC, sans-serif"><tspan x="65 71" y="460" font-size="11" font-weight="400">40</tspan><tspan x="77" y="460.5" font-size="12" font-weight="350">天</tspan></text>
<rect x="296" y="657" width="1" height="2" fill="#8c8c78"/>
<rect x="317" y="657" width="1" height="2" fill="#8c8c78"/>
<rect x="546" y="657" width="1" height="2" fill="#8c8c78"/>
<rect x="567" y="657" width="1" height="2" fill="#8c8c78"/>
<rect x="817" y="657" width="1" height="2" fill="#8c8c78"/>
<rect x="1047" y="657" width="1" height="2" fill="#8c8c78"/>
<rect x="1067" y="657" width="1" height="2" fill="#8c8c78"/>
</svg>
</body></html>
